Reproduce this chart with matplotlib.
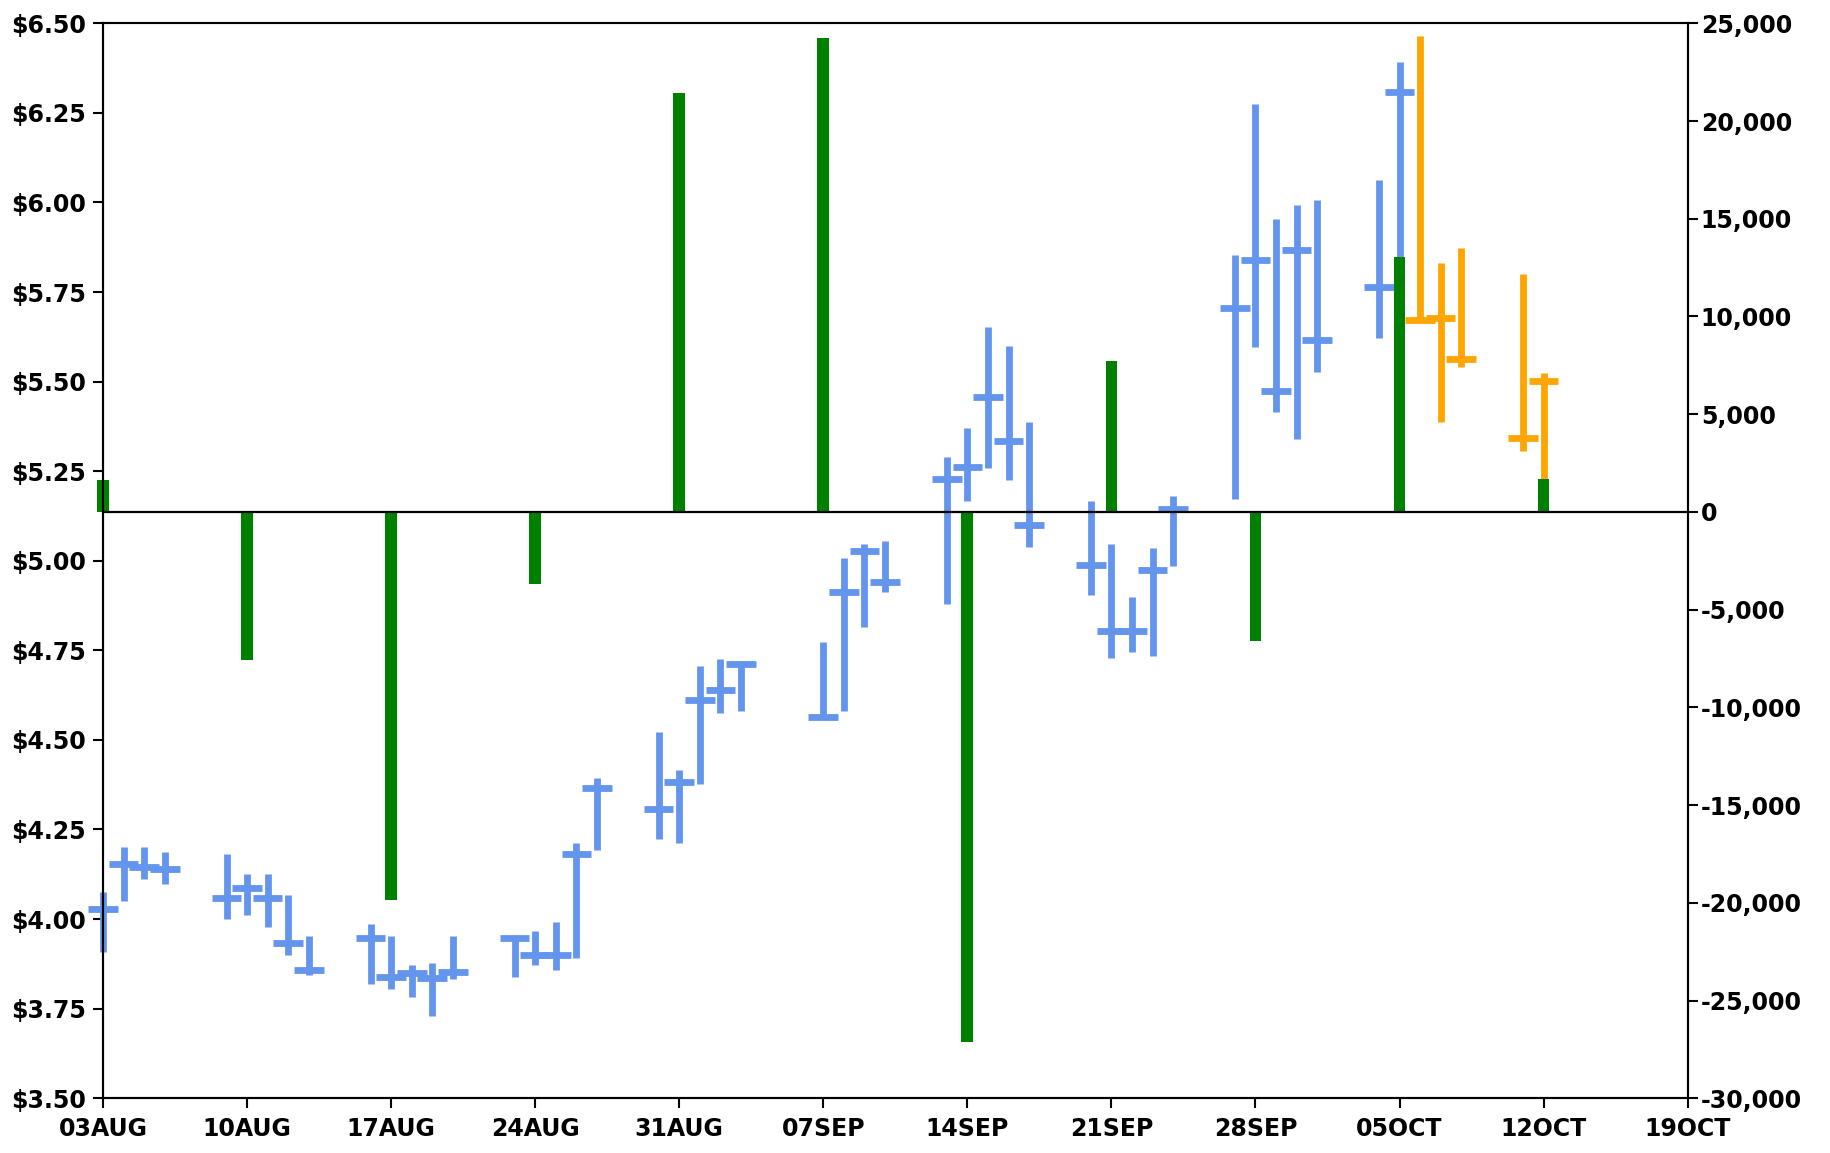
"""Daily HLC price bars with weekly net flow bars (right axis)."""
import datetime as dt
import matplotlib
matplotlib.use("Agg")
import matplotlib.pyplot as plt
import matplotlib.dates as mdates
import matplotlib.ticker as mticker

plt.rcParams["font.family"] = ["DejaVu Sans"]
plt.rcParams["font.weight"] = "bold"
plt.rcParams["font.size"] = 17

# ── data ─────────────────────────────────────────────────────────────────────
days = [
    "2015-08-03", "2015-08-04", "2015-08-05", "2015-08-06",
    "2015-08-09", "2015-08-10", "2015-08-11", "2015-08-12", "2015-08-13",
    "2015-08-16", "2015-08-17", "2015-08-18", "2015-08-19", "2015-08-20",
    "2015-08-23", "2015-08-24", "2015-08-25", "2015-08-26", "2015-08-27",
    "2015-08-30", "2015-08-31", "2015-09-01", "2015-09-02", "2015-09-03",
    "2015-09-07", "2015-09-08", "2015-09-09", "2015-09-10",
    "2015-09-13", "2015-09-14", "2015-09-15", "2015-09-16", "2015-09-17",
    "2015-09-20", "2015-09-21", "2015-09-22", "2015-09-23", "2015-09-24",
    "2015-09-27", "2015-09-28", "2015-09-29", "2015-09-30", "2015-10-01",
    "2015-10-04", "2015-10-05",
]
high = [
    4.076, 4.202, 4.202, 4.188,
    4.181, 4.127, 4.127, 4.067, 3.953,
    3.985, 3.953, 3.872, 3.878, 3.953,
    3.946, 3.967, 3.993, 4.213, 4.393,
    4.523, 4.415, 4.705, 4.725, 4.719,
    4.772, 5.007, 5.047, 5.054,
    5.289, 5.370, 5.652, 5.598, 5.388,
    5.168, 5.046, 4.900, 5.035, 5.182,
    5.852, 6.276, 5.954, 5.994, 6.007,
    6.062, 6.391,
]
low = [
    3.909, 4.051, 4.112, 4.098,
    3.999, 4.011, 3.979, 3.899, 3.844,
    3.818, 3.804, 3.783, 3.729, 3.832,
    3.839, 3.872, 3.858, 3.890, 4.194,
    4.223, 4.213, 4.376, 4.576, 4.582,
    4.563, 4.582, 4.816, 4.914,
    4.880, 5.167, 5.260, 5.226, 5.038,
    4.905, 4.730, 4.744, 4.735, 4.984,
    5.173, 5.596, 5.414, 5.341, 5.528,
    5.623, 5.700,
]
close = [
    4.027, 4.154, 4.146, 4.141,
    4.060, 4.087, 4.060, 3.933, 3.858,
    3.946, 3.839, 3.850, 3.836, 3.852,
    3.946, 3.899, 3.899, 4.183, 4.366,
    4.308, 4.383, 4.612, 4.638, 4.711,
    4.563, 4.912, 5.028, 4.940,
    5.228, 5.263, 5.456, 5.335, 5.100,
    4.987, 4.805, 4.805, 4.975, 5.144,
    5.705, 5.839, 5.475, 5.866, 5.616,
    5.765, 6.308,
]

# last few sessions drawn in orange
new_days = ["2015-10-06", "2015-10-07", "2015-10-08", "2015-10-11", "2015-10-12"]
new_high = [6.465, 5.832, 5.874, 5.799, 5.523]
new_low = [5.671, 5.386, 5.541, 5.307, 5.200]
new_close = [5.671, 5.678, 5.563, 5.342, 5.503]

weeks = [
    "2015-08-03", "2015-08-10", "2015-08-17", "2015-08-24", "2015-08-31",
    "2015-09-07", "2015-09-14", "2015-09-21", "2015-09-28", "2015-10-05",
    "2015-10-12",
]
flow = [1640, -7600, -19870, -3670, 21420, 24240, -27120, 7740, -6620, 13040, 1700]

tick_days = weeks + ["2015-10-19"]


def to_num(strs):
    return [mdates.date2num(dt.datetime.strptime(s, "%Y-%m-%d")) for s in strs]


x_old = to_num(days)
x_new = to_num(new_days)
x_wk = to_num(weeks)
x_ticks = to_num(tick_days)

fig = plt.figure(figsize=(18.3, 11.53), dpi=100)
ax = fig.add_axes([0.0563, 0.0475, 0.8659, 0.9323])
ax2 = ax.twinx()

half = 0.72
lw = 4.9


def hlc(xs, hi, lo, cl, color):
    ax.vlines(xs, lo, hi, color=color, lw=lw, clip_on=False)
    ax.hlines(cl, [x - half for x in xs], [x + half for x in xs],
              color=color, lw=lw, clip_on=False)


hlc(x_old, high, low, close, "cornflowerblue")
hlc(x_new, new_high, new_low, new_close, "orange")

bars = ax2.bar(x_wk, flow, width=0.57, color="green")
for b in bars:
    b.set_clip_on(False)
ax2.axhline(0, color="black", lw=1.6)

ax.set_xlim(x_ticks[0], x_ticks[-1])
ax.set_ylim(3.5, 6.5)
ax2.set_ylim(-30000, 25000)

ax.set_xticks(x_ticks)
ax.set_xticklabels([dt.datetime.strptime(s, "%Y-%m-%d").strftime("%d%b").upper()
                    for s in tick_days])
ax.yaxis.set_major_locator(mticker.MultipleLocator(0.25))
ax.yaxis.set_major_formatter(mticker.FuncFormatter(lambda v, _: f"${v:.2f}"))
ax2.yaxis.set_major_locator(mticker.MultipleLocator(5000))
ax2.yaxis.set_major_formatter(mticker.FuncFormatter(lambda v, _: f"{v:,.0f}"))

ax.tick_params(axis="x", length=7.5, width=1.5, pad=6)
ax.tick_params(axis="y", length=7.5, width=1.5, pad=5)
ax2.tick_params(axis="y", length=7.5, width=1.5, pad=2)
for a in (ax, ax2):
    for sp in a.spines.values():
        sp.set_linewidth(1.5)

plt.savefig("out.png", dpi=100)
